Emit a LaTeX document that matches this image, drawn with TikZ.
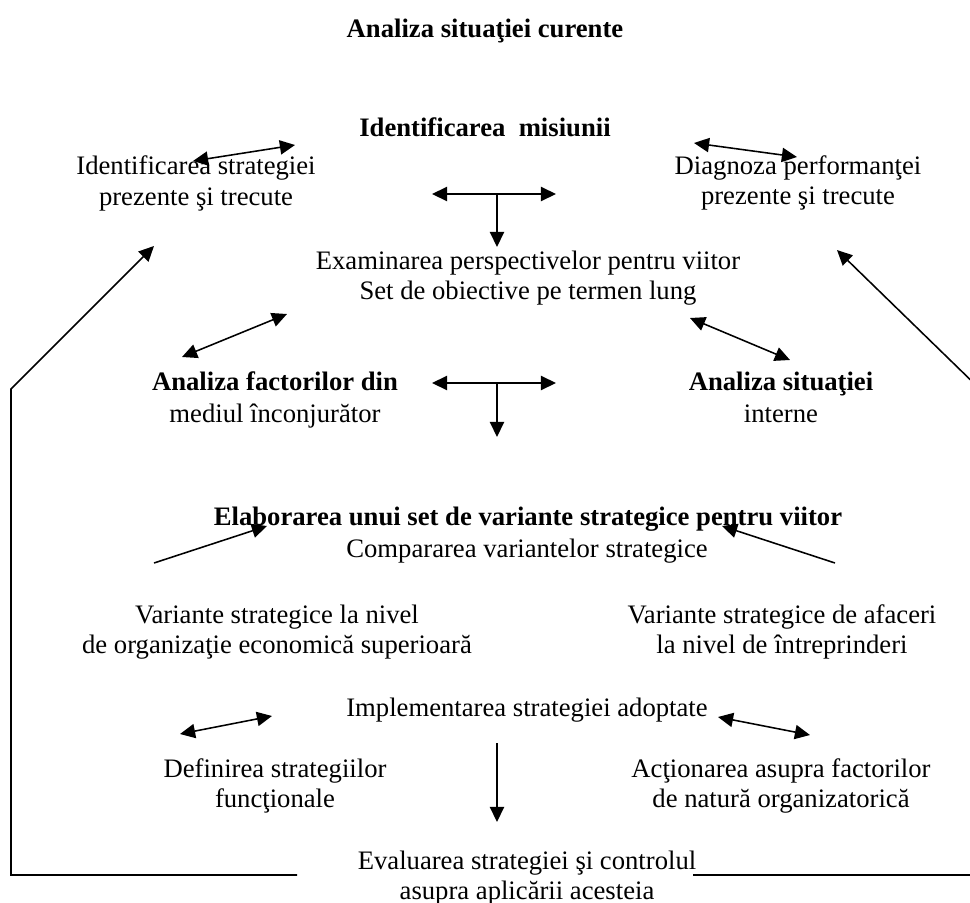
\documentclass[tikz,border=0pt]{standalone}
\usepackage{fontspec}
\setmainfont{Liberation Serif}
\usetikzlibrary{arrows.meta}
\begin{document}
\begin{tikzpicture}[x=0.45pt,y=-0.45pt,
  txt/.style={font=\fontsize{12}{13.6}\selectfont, inner sep=0pt, align=center},
  con/.style={line width=0.7pt},
  arr/.style={con,-{Triangle[length=6.8pt,width=6.4pt]}},
  darr/.style={con,{Triangle[length=6.8pt,width=6.4pt]}-{Triangle[length=6.8pt,width=6.4pt]}}]
\useasboundingbox (0,0) rectangle (970,903);
\clip (0,0) rectangle (970,903);
% texts
\node[txt,anchor=base] (title) at (485,37) {\textbf{Analiza situaţiei curente}};
\node[txt,anchor=base] (mis) at (485,136) {\textbf{Identificarea\ \ misiunii}};
\node[txt] (idstr) at (196,183.5) {Identificarea strategiei\\prezente şi trecute};
\node[txt] (diag) at (798,183) {Diagnoza performanţei\\prezente şi trecute};
\node[txt] (exam) at (528,278) {Examinarea perspectivelor pentru viitor\\Set de obiective pe termen lung};
\node[txt] (anf) at (275,400) {\textbf{Analiza factorilor din}\\[1pt]mediul înconjurător};
\node[txt] (ans) at (781,397.5) {\textbf{Analiza situaţiei}\\[1pt]interne};
\node[txt,anchor=base] (elab) at (528,525) {\textbf{Elaborarea unui set de variante strategice pentru viitor}};
\node[txt,anchor=base] (comp) at (527,557) {Compararea variantelor strategice};
\node[txt] (varl) at (277,632) {Variante strategice la nivel\\de organizaţie economică superioară};
\node[txt] (varr) at (782,632) {Variante strategice de afaceri\\la nivel de întreprinderi};
\node[txt,anchor=base] (impl) at (527,716) {Implementarea strategiei adoptate};
\node[txt] (def) at (275,786) {Definirea strategiilor\\funcţionale};
\node[txt] (act) at (781,786) {Acţionarea asupra factorilor\\de natură organizatorică};
\node[txt] (eval) at (527,878) {Evaluarea strategiei şi controlul\\asupra aplicării acesteia};
% coordinates
\coordinate (a1) at (193,161); \coordinate (a2) at (295,145);
\coordinate (b1) at (694,143); \coordinate (b2) at (797,157);
\coordinate (h1l) at (432,194); \coordinate (h1r) at (556,194);
\coordinate (h1m) at (497,194); \coordinate (h1d) at (497,247);
\coordinate (c1) at (287,314); \coordinate (c2) at (182,357);
\coordinate (d1) at (690,318); \coordinate (d2) at (790,360);
\coordinate (h2l) at (432,383); \coordinate (h2r) at (556,383);
\coordinate (h2m) at (497,383); \coordinate (h2d) at (497,437);
\coordinate (e1) at (154,563); \coordinate (e2) at (267,526);
\coordinate (f1) at (835,563); \coordinate (f2) at (722,526);
\coordinate (g1) at (180,734); \coordinate (g2) at (272,716);
\coordinate (k1) at (718,717); \coordinate (k2) at (810,735);
\coordinate (v1) at (497,743); \coordinate (v2) at (497,822);
\coordinate (lb) at (297,875); \coordinate (lc) at (11,875); \coordinate (lu) at (11,389); \coordinate (lt) at (154,246);
\coordinate (rb) at (693,875); \coordinate (rc) at (985,875); \coordinate (ru) at (985,394); \coordinate (rt) at (837,250);
% connectors
\draw[darr] (a1) -- (a2);
\draw[darr] (b1) -- (b2);
\draw[darr] (h1l) -- (h1r);
\draw[arr] (h1m) -- (h1d);
\draw[darr] (c1) -- (c2);
\draw[darr] (d1) -- (d2);
\draw[darr] (h2l) -- (h2r);
\draw[arr] (h2m) -- (h2d);
\draw[arr] (e1) -- (e2);
\draw[arr] (f1) -- (f2);
\draw[darr] (g1) -- (g2);
\draw[darr] (k1) -- (k2);
\draw[arr] (v1) -- (v2);
\draw[arr] (lb) -- (lc) -- (lu) -- (lt);
\draw[arr] (rb) -- (rc) -- (ru) -- (rt);
\end{tikzpicture}
\end{document}
